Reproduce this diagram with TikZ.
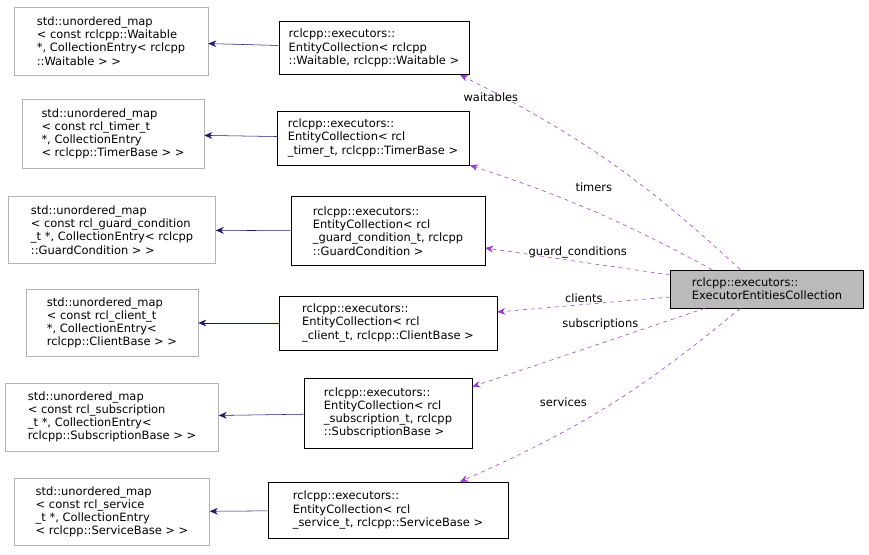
\documentclass[tikz,border=0pt]{standalone}
\usepackage{fontspec}
\setmainfont{DejaVu Sans}
\usetikzlibrary{arrows.meta}
\definecolor{usecol}{HTML}{9A32CD}
\definecolor{inhcol}{HTML}{191970}

\tikzset{
  base/.style={draw, align=left, inner sep=2pt, font=\fontsize{8.6}{9.9}\selectfont},
  mapnode/.style={base, draw=black!30},
  collnode/.style={base, draw=black},
  usesedge/.style={-{Stealth[length=6pt,width=5pt]}, draw=usecol, dashed},
  inheritedge/.style={-{Stealth[length=6pt,width=5pt]}, draw=inhcol},
  elabel/.style={font=\fontsize{8.6}{9}\selectfont}
}

\begin{document}
\begin{tikzpicture}[x=0.75pt,y=-0.75pt]
  \useasboundingbox (0,0) rectangle (869,555);
  % maps on the left
  \node[mapnode, minimum width=194*0.75pt, minimum height=68*0.75pt] (mapW) at (111,41)
    {std::unordered\_map\\< const rclcpp::Waitable\\ *, CollectionEntry< rclcpp\\::Waitable > >};
  \node[mapnode, minimum width=182*0.75pt, minimum height=69*0.75pt] (mapT) at (113,134)
    {std::unordered\_map\\< const rcl\_timer\_t\\ *, CollectionEntry\\< rclcpp::TimerBase > >};
  \node[mapnode, minimum width=207*0.75pt, minimum height=67*0.75pt] (mapG) at (112,230)
    {std::unordered\_map\\< const rcl\_guard\_condition\\\_t *, CollectionEntry< rclcpp\\::GuardCondition > >};
  \node[mapnode, minimum width=172*0.75pt, minimum height=67*0.75pt] (mapC) at (112,323)
    {std::unordered\_map\\< const rcl\_client\_t\\ *, CollectionEntry<\\ rclcpp::ClientBase > >};
  \node[mapnode, minimum width=213*0.75pt, minimum height=68*0.75pt] (mapS) at (112,417)
    {std::unordered\_map\\< const rcl\_subscription\\\_t *, CollectionEntry<\\ rclcpp::SubscriptionBase > >};
  \node[mapnode, minimum width=195*0.75pt, minimum height=67*0.75pt] (mapV) at (112,512)
    {std::unordered\_map\\< const rcl\_service\\\_t *, CollectionEntry\\< rclcpp::ServiceBase > >};

  % entity collections
  \node[collnode, minimum width=190*0.75pt, minimum height=53*0.75pt] (colW) at (374,48)
    {rclcpp::executors::\\EntityCollection< rclcpp\\::Waitable, rclcpp::Waitable >};
  \node[collnode, minimum width=192*0.75pt, minimum height=54*0.75pt] (colT) at (373,138)
    {rclcpp::executors::\\EntityCollection< rcl\\\_timer\_t, rclcpp::TimerBase >};
  \node[collnode, minimum width=194*0.75pt, minimum height=69*0.75pt] (colG) at (388,231)
    {rclcpp::executors::\\EntityCollection< rcl\\\_guard\_condition\_t, rclcpp\\::GuardCondition >};
  \node[collnode, minimum width=218*0.75pt, minimum height=54*0.75pt] (colC) at (388,323)
    {rclcpp::executors::\\EntityCollection< rcl\\\_client\_t, rclcpp::ClientBase >};
  \node[collnode, minimum width=168*0.75pt, minimum height=70*0.75pt] (colS) at (388,413)
    {rclcpp::executors::\\EntityCollection< rcl\\\_subscription\_t, rclcpp\\::SubscriptionBase >};
  \node[collnode, minimum width=240*0.75pt, minimum height=56*0.75pt] (colV) at (388,510)
    {rclcpp::executors::\\EntityCollection< rcl\\\_service\_t, rclcpp::ServiceBase >};

  % the collection
  \node[collnode, fill=black!27, minimum width=193*0.75pt, minimum height=38*0.75pt] (exec) at (767,289)
    {rclcpp::executors::\\ExecutorEntitiesCollection};

  % inheritance-like edges
  \foreach \c/\m in {colW/mapW, colT/mapT, colG/mapG, colC/mapC, colS/mapS, colV/mapV}
    \draw[inheritedge] (\c) -- (\m);

  % member edges
  \draw[usesedge] ([xshift=-20pt]exec.north) to[bend right=8] node[elabel, pos=0.8, above left=2pt] {waitables} ([xshift=64.5pt]colW.south);
  \draw[usesedge] ([xshift=-41pt]exec.north) to[bend right=5] node[elabel, pos=0.5, above=11pt] {timers} ([xshift=72.75pt]colT.south);
  \draw[usesedge] ([yshift=10.5pt]exec.west) -- node[elabel, pos=0.5, above=-1pt] {guard\_conditions} ([yshift=-12.75pt]colG.east);
  \draw[usesedge] ([yshift=-6pt]exec.west) -- node[elabel, pos=0.5, above=-2pt] {clients} ([yshift=8.25pt]colC.east);
  \draw[usesedge] ([xshift=-46.5pt]exec.south) -- node[elabel, pos=0.45, above=7pt] {subscriptions} ([yshift=-6.75pt]colS.north east);
  \draw[usesedge] ([xshift=-20pt]exec.south) to[bend left=8] node[elabel, pos=0.55, above left=2pt] {services} ([xshift=54pt]colV.north);
\end{tikzpicture}
\end{document}
